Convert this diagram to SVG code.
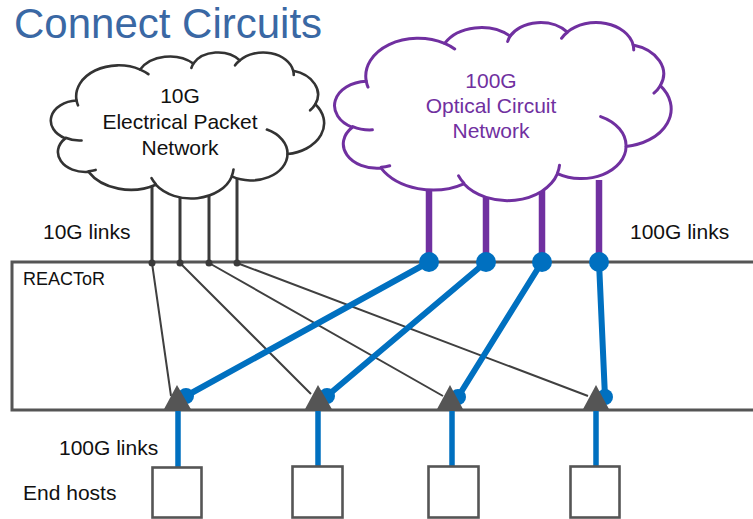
<svg xmlns="http://www.w3.org/2000/svg" xmlns:xlink="http://www.w3.org/1999/xlink" width="753" height="519" viewBox="0 0 753 519">
  <style>
    .lbl { font-family: "Liberation Sans", Arial, sans-serif; font-size: 21px; fill: #111; }
    .lbl.small { font-size: 18px; }
    .lbl.optical { fill: #7030a0; }
    .cloud-shape { fill: #fff; stroke-linejoin: round; }
    .cloud-inner { fill: none; stroke-linecap: round; }
    .thin { stroke: #404040; stroke-width: 2; fill: none; }
    .drop { stroke: #3a3a3a; stroke-width: 3; fill: none; }
    .optic { stroke: #7030a0; stroke-width: 6.5; fill: none; }
    .fat { stroke: #0070c0; stroke-width: 6; fill: none; stroke-linecap: round; }
    .host-link { stroke: #0070c0; stroke-width: 5.5; fill: none; }
    .port { fill: #0070c0; }
    .tri { fill: #555; }
    .host { fill: #fff; stroke: #555; stroke-width: 2.6; }
  </style>
  <defs>
    <!-- cloud outline and inner creases, drawn in a 43200 x 43200 box -->
    <path id="cloud-outline" vector-effect="non-scaling-stroke" d="M3900,14370 A6753,9190 0 0 1 14005,5202 A5333,7267 0 0 1 22456,3432 A4365,5945 0 0 1 29832,2477 A4857,6595 0 0 1 38317,5572 A5333,7273 0 0 1 41818,15456 A6775,9220 0 0 1 37406,30203 A5785,7867 0 0 1 28557,36813 A6752,9215 0 0 1 16483,39267 A7720,10543 0 0 1 5807,35471 A4360,5918 0 0 1 2114,25553 A4345,5945 0 0 1 3900,14370 Z"/>
    <path id="cloud-creases" vector-effect="non-scaling-stroke" d="M4693,26177 A4345,5945 0 0 1 2159,25380 M6928,34899 A4360,5918 0 0 1 5820,35280 M16478,39090 A6752,9215 0 0 1 15809,37347 M28827,34751 A6752,9215 0 0 1 28560,36660 M34129,22954 A5785,7867 0 0 1 37406,30203 M41818,15456 A5333,7273 0 0 1 41001,17265 M38317,5572 A4857,6595 0 0 1 38394,6811 M29078,3952 A4857,6595 0 0 1 29832,2477 M22141,4720 A4365,5945 0 0 1 22456,3432 M14005,5202 A6753,9190 0 0 1 15306,6552 M4127,15789 A6753,9190 0 0 1 3900,14370"/>
  </defs>
  <rect width="753" height="519" fill="#fff"/>

  <!-- title -->
  <text x="14" y="38" font-family="Liberation Sans, Arial, sans-serif" font-size="42" fill="#3a68a4">Connect Circuits</text>

  <!-- REACToR switch body -->
  <g id="reactor">
    <path d="M753,262 H12 V410 H753" fill="none" stroke="#555" stroke-width="3"/>
    <text class="lbl small" x="23" y="285">REACToR</text>
  </g>

  <!-- links -->
  <g id="connectors">
    <!-- 10G drops from the packet network -->
    <path class="drop" d="M152,170 V263 M180,170 V263 M209,170 V263 M237,170 V263"/>
    <!-- 10G fan-out inside REACToR -->
    <path class="thin" d="M152,263 L171,396 M180,263 L311,394 M209,263 L443,396 M237,263 L588,396"/>
    <!-- 100G optical uplinks -->
    <path class="optic" d="M429,180 V262 M486,180 V262 M542,180 V262 M599,180 V262"/>
    <!-- 100G circuits inside REACToR -->
    <path class="fat" d="M429,262 L186,396 M486,262 L327,396 M542,262 L458,397 M599,262 L605,397"/>
    <!-- 100G host links -->
    <path class="host-link" d="M178,410 V468 M318,410 V468 M452,410 V468 M596,410 V468"/>
  </g>

  <!-- 10G electrical packet network -->
  <g id="packet-network">
    <g transform="translate(52,52) scale(0.0062963,0.0033796)" stroke="#333" stroke-width="2.6">
      <use class="cloud-shape" xlink:href="#cloud-outline" href="#cloud-outline"/>
      <use class="cloud-inner" xlink:href="#cloud-creases" href="#cloud-creases"/>
    </g>
    <text class="lbl" text-anchor="middle" x="180" y="103">10G</text>
    <text class="lbl" text-anchor="middle" x="180" y="129">Electrical Packet</text>
    <text class="lbl" text-anchor="middle" x="180" y="155">Network</text>
  </g>

  <!-- 100G optical circuit network -->
  <g id="circuit-network">
    <g transform="translate(336,22) scale(0.0077546,0.0041204)" stroke="#7030a0" stroke-width="3">
      <use class="cloud-shape" xlink:href="#cloud-outline" href="#cloud-outline"/>
      <use class="cloud-inner" xlink:href="#cloud-creases" href="#cloud-creases"/>
    </g>
    <text class="lbl optical" text-anchor="middle" x="491" y="88">100G</text>
    <text class="lbl optical" text-anchor="middle" x="491" y="113">Optical Circuit</text>
    <text class="lbl optical" text-anchor="middle" x="491" y="138">Network</text>
  </g>

  <!-- ports on the REACToR edges -->
  <g id="ports-10g" fill="#3a3a3a">
    <circle cx="152" cy="263" r="3.5"/>
    <circle cx="180" cy="263" r="3.5"/>
    <circle cx="209" cy="263" r="3.5"/>
    <circle cx="237" cy="263" r="3.5"/>
  </g>
  <g id="ports-100g">
    <circle class="port" cx="429" cy="262" r="10"/>
    <circle class="port" cx="486" cy="262" r="10"/>
    <circle class="port" cx="542" cy="262" r="10"/>
    <circle class="port" cx="599" cy="262" r="10"/>
    <circle class="port" cx="186" cy="396" r="8"/>
    <circle class="port" cx="327" cy="396" r="8"/>
    <circle class="port" cx="458" cy="397" r="8"/>
    <circle class="port" cx="605" cy="397" r="8"/>
  </g>
  <g id="merge-points">
    <polygon class="tri" points="177,385 163,411 192,411"/>
    <polygon class="tri" points="318,385 304,411 333,411"/>
    <polygon class="tri" points="450,385 436,411 464,411"/>
    <polygon class="tri" points="596,385 582,411 610,411"/>
  </g>

  <!-- link labels -->
  <text class="lbl" x="43" y="239">10G links</text>
  <text class="lbl" x="630" y="239">100G links</text>
  <text class="lbl" x="59" y="455">100G links</text>

  <!-- end hosts -->
  <g id="host-1"><rect class="host" x="152.5" y="467.5" width="49" height="50"/></g>
  <g id="host-2"><rect class="host" x="292.5" y="466.5" width="50" height="51"/></g>
  <g id="host-3"><rect class="host" x="428.5" y="466.5" width="50" height="51"/></g>
  <g id="host-4"><rect class="host" x="570.5" y="466.5" width="49" height="51"/></g>
  <text class="lbl" x="23" y="500">End hosts</text>
</svg>
